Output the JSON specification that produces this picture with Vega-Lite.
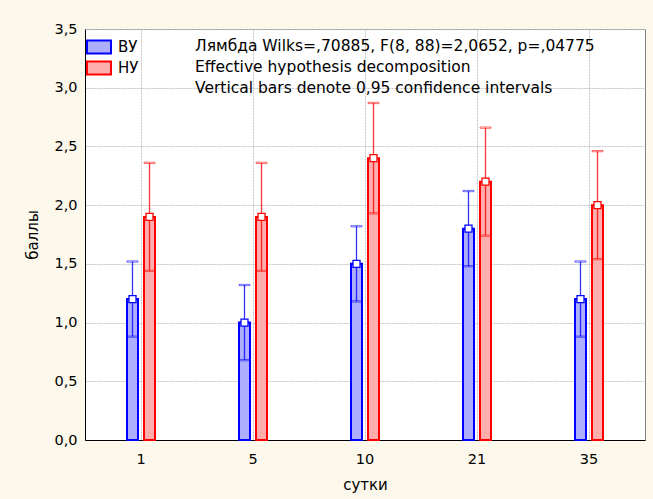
{
  "$schema": "https://vega.github.io/schema/vega-lite/v6.json",
  "autosize": {"type": "none"},
  "width": 560,
  "height": 411,
  "padding": {"left": 85, "top": 29, "right": 8, "bottom": 59},
  "background": "#fdf8ec",
  "title": {
    "text": ["Лямбда Wilks=,70885, F(8, 88)=2,0652, p=,04775", "Effective hypothesis decomposition", "Vertical bars denote 0,95 confidence intervals"],
    "anchor": "start",
    "frame": "group",
    "orient": "top",
    "offset": -76,
    "dx": 110,
    "font": "DejaVu Sans",
    "fontSize": 15.5,
    "fontWeight": "normal",
    "lineHeight": 21.3,
    "color": "#000000"
  },
  "data": {
    "values": [
      {"day": "1", "group": "ВУ", "mean": 1.2, "lo": 0.88, "hi": 1.52},
      {"day": "5", "group": "ВУ", "mean": 1.0, "lo": 0.68, "hi": 1.32},
      {"day": "10", "group": "ВУ", "mean": 1.5, "lo": 1.18, "hi": 1.82},
      {"day": "21", "group": "ВУ", "mean": 1.8, "lo": 1.48, "hi": 2.12},
      {"day": "35", "group": "ВУ", "mean": 1.2, "lo": 0.88, "hi": 1.52},
      {"day": "1", "group": "НУ", "mean": 1.9, "lo": 1.44, "hi": 2.36},
      {"day": "5", "group": "НУ", "mean": 1.9, "lo": 1.44, "hi": 2.36},
      {"day": "10", "group": "НУ", "mean": 2.4, "lo": 1.93, "hi": 2.87},
      {"day": "21", "group": "НУ", "mean": 2.2, "lo": 1.74, "hi": 2.66},
      {"day": "35", "group": "НУ", "mean": 2.0, "lo": 1.54, "hi": 2.46}
    ]
  },
  "encoding": {
    "x": {
      "field": "day", "type": "nominal", "sort": ["1", "5", "10", "21", "35"],
      "scale": {"paddingInner": 0, "paddingOuter": 0},
      "axis": {
        "title": "сутки", "labelAngle": 0, "ticks": false, "labelPadding": 12,
        "grid": true, "bandPosition": 0.5, "gridColor": "#c4c4c4", "gridDash": [2, 1],
        "domainColor": "#000000", "labelColor": "#000000", "titleColor": "#000000",
        "labelFont": "DejaVu Sans", "titleFont": "DejaVu Sans",
        "labelFontSize": 14.5, "titleFontSize": 15, "titleFontWeight": "normal", "titlePadding": 12
      }
    },
    "xOffset": {
      "field": "group", "type": "nominal",
      "scale": {"domain": ["_a", "_b", "ВУ", "НУ", "_c", "_d"], "paddingInner": 0.353, "paddingOuter": 0.47}
    }
  },
  "layer": [
    {
      "mark": {"type": "bar", "strokeWidth": 2},
      "encoding": {
        "y": {
          "field": "mean", "type": "quantitative",
          "scale": {"domain": [0, 3.5], "nice": false},
          "axis": {
            "title": "баллы", "values": [0, 0.5, 1, 1.5, 2, 2.5, 3, 3.5],
            "labelExpr": "replace(format(datum.value, '.1f'), '.', ',')",
            "ticks": false, "labelPadding": 8,
            "grid": true, "gridColor": "#c4c4c4", "gridDash": [2, 1],
            "domainColor": "#000000", "labelColor": "#000000", "titleColor": "#000000",
            "labelFont": "DejaVu Sans", "titleFont": "DejaVu Sans",
            "labelFontSize": 14.5, "titleFontSize": 15, "titleFontWeight": "normal", "titlePadding": 13
          }
        },
        "fill": {
          "field": "group", "type": "nominal",
          "scale": {"domain": ["ВУ", "НУ"], "range": ["#aeaeff", "#ffaeae"]},
          "legend": {
            "title": null, "orient": "none", "legendX": 5, "legendY": 9,
            "symbolType": "M-1.5,-0.8H1.5V0.8H-1.5Z", "symbolSize": 256,
            "symbolStrokeWidth": 2, "labelOffset": 10, "rowPadding": -1,
            "labelFont": "DejaVu Sans", "labelFontSize": 15, "labelColor": "#000000",
            "padding": 0
          }
        },
        "stroke": {
          "field": "group", "type": "nominal",
          "scale": {"domain": ["ВУ", "НУ"], "range": ["#0000ff", "#ff0000"]},
          "legend": {
            "title": null, "orient": "none", "legendX": 5, "legendY": 9,
            "symbolType": "M-1.5,-0.8H1.5V0.8H-1.5Z", "symbolSize": 256,
            "symbolStrokeWidth": 2, "labelOffset": 10, "rowPadding": -1,
            "labelFont": "DejaVu Sans", "labelFontSize": 15, "labelColor": "#000000",
            "padding": 0
          }
        }
      }
    },
    {
      "mark": {"type": "rule", "strokeWidth": 1.3, "strokeOpacity": 0.8},
      "encoding": {
        "y": {"field": "lo", "type": "quantitative"},
        "y2": {"field": "hi"},
        "stroke": {"field": "group", "type": "nominal"}
      }
    },
    {
      "mark": {"type": "tick", "size": 11, "thickness": 1.3, "strokeOpacity": 0.8, "filled": false},
      "encoding": {
        "y": {"field": "hi", "type": "quantitative"},
        "stroke": {"field": "group", "type": "nominal"}
      }
    },
    {
      "mark": {"type": "tick", "size": 11, "thickness": 1.3, "strokeOpacity": 0.8, "filled": false},
      "encoding": {
        "y": {"field": "lo", "type": "quantitative"},
        "stroke": {"field": "group", "type": "nominal"}
      }
    },
    {
      "mark": {"type": "point", "shape": "square", "size": 49, "filled": true, "fill": "#ffffff", "fillOpacity": 1, "strokeWidth": 1.3, "opacity": 1},
      "encoding": {
        "y": {"field": "mean", "type": "quantitative"},
        "stroke": {"field": "group", "type": "nominal"}
      }
    }
  ],
  "config": {
    "view": {"fill": "#ffffff", "stroke": "#808080", "strokeWidth": 1},
    "axis": {"domainWidth": 1}
  }
}
